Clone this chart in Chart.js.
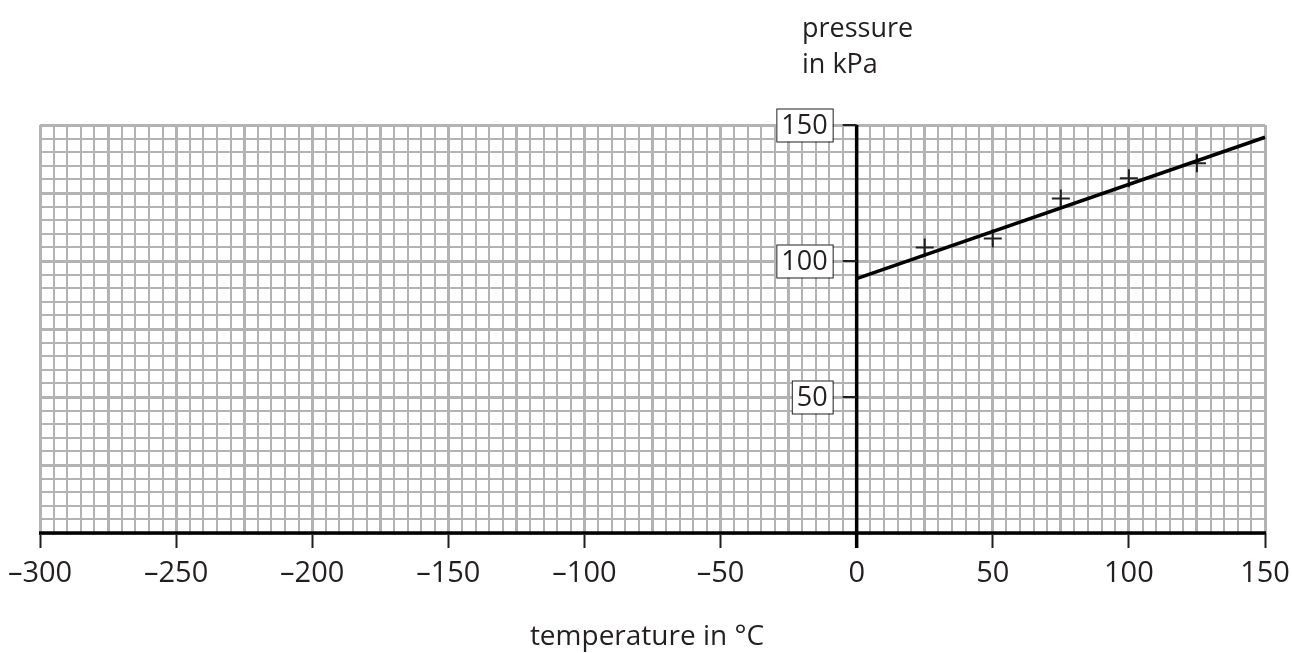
<!DOCTYPE html>
<html>
<head>
<meta charset="utf-8">
<script src="https://cdn.jsdelivr.net/npm/chart.js@4.4.0/dist/chart.umd.min.js"></script>
<style>
  body { margin: 0; background: #fff; }
  #wrap { width: 1292px; height: 653px; }
</style>
</head>
<body>
<div id="wrap"><canvas id="pressureChart"></canvas></div>
<script>
// measured points (crosses)
const tempValues = [25, 50, 75, 100, 125];
const pressureValues = [105, 108.3, 123, 130.4, 135.9];
// best-fit line drawn on the graph
const fitTemps = [0, 150];
const fitPressures = [93.5, 145.5];
// labelled ticks
const xLabelValues = [-300, -250, -200, -150, -100, -50, 0, 50, 100, 150];
const yLabelValues = [50, 100, 150];

const TEXT = '#231f20';
const GRID = '#b3b3b3';
const FONT = '"Open Sans", "DejaVu Sans", sans-serif';

function fmt(v) {
  return v < 0 ? '\u2013' + Math.abs(v) : String(v);
}

// 畫 y 軸、方框標籤和軸標題
const axesPlugin = {
  id: 'axesPlugin',
  beforeDatasetsDraw(chart) {
    const { ctx, chartArea, scales } = chart;
    const x0 = scales.x.getPixelForValue(0);
    const yBottom = scales.y.getPixelForValue(0);
    ctx.save();
    ctx.strokeStyle = '#000';
    ctx.lineWidth = 3.5;
    // x axis
    ctx.beginPath();
    ctx.moveTo(chartArea.left - 1, yBottom);
    ctx.lineTo(chartArea.right + 1, yBottom);
    ctx.stroke();
    // y axis
    ctx.beginPath();
    ctx.moveTo(x0, scales.y.getPixelForValue(150));
    ctx.lineTo(x0, yBottom + 15);
    ctx.stroke();

    // y ticks + boxed labels
    ctx.font = '27px ' + FONT;
    ctx.textAlign = 'center';
    ctx.textBaseline = 'middle';
    yLabelValues.forEach(v => {
      const py = scales.y.getPixelForValue(v);
      ctx.strokeStyle = TEXT;
      ctx.lineWidth = 2;
      ctx.beginPath();
      ctx.moveTo(x0 - 14, py);
      ctx.lineTo(x0, py);
      ctx.stroke();
      const label = fmt(v);
      const bw = ctx.measureText(label).width + 10;
      const bh = 33;
      const right = x0 - 24;
      ctx.fillStyle = '#fff';
      ctx.fillRect(right - bw, py - bh / 2, bw, bh);
      ctx.lineWidth = 1;
      ctx.strokeRect(right - bw + 0.5, py - bh / 2 + 0.5, bw, bh);
      ctx.fillStyle = TEXT;
      ctx.fillText(label, right - bw / 2, py + 1);
    });
    ctx.restore();
  },
  afterDraw(chart) {
    const { ctx } = chart;
    ctx.save();
    ctx.fillStyle = TEXT;
    ctx.textBaseline = 'alphabetic';
    ctx.font = '27px ' + FONT;
    ctx.textAlign = 'left';
    ctx.fillText('pressure', 802, 37);
    ctx.fillText('in kPa', 802, 73);
    ctx.font = '28px ' + FONT;
    ctx.textAlign = 'center';
    ctx.fillText('temperature in \u00B0C', 647, 645);
    ctx.restore();
  }
};

new Chart(document.getElementById('pressureChart'), {
  type: 'scatter',
  data: {
    datasets: [
      {
        label: 'best fit',
        data: fitTemps.map((t, i) => ({ x: t, y: fitPressures[i] })),
        showLine: true,
        borderColor: '#000',
        borderWidth: 3.5,
        pointRadius: 0,
        clip: false
      },
      {
        label: 'readings',
        data: tempValues.map((t, i) => ({ x: t, y: pressureValues[i] })),
        pointStyle: 'cross',
        pointRadius: 9,
        borderColor: TEXT,
        borderWidth: 2,
        backgroundColor: TEXT
      }
    ]
  },
  options: {
    responsive: true,
    maintainAspectRatio: false,
    animation: false,
    layout: { padding: { left: 40, right: 27, top: 125, bottom: 0 } },
    plugins: {
      legend: { display: false },
      tooltip: { enabled: false }
    },
    scales: {
      x: {
        type: 'linear',
        min: -300,
        max: 150,
        afterFit: (scale) => {
          scale.height = 120;
          scale.paddingLeft = 0;
          scale.paddingRight = 0;
        },
        border: { display: false },
        grid: {
          color: GRID,
          lineWidth: (c) => (c.tick && c.tick.value % 25 === 0 ? 3 : 2),
          tickColor: (c) => (c.tick && xLabelValues.includes(c.tick.value) ? TEXT : 'rgba(0,0,0,0)'),
          tickWidth: 2,
          tickLength: 15
        },
        ticks: {
          stepSize: 5,
          maxTicksLimit: 200,
          autoSkip: false,
          maxRotation: 0,
          padding: 8,
          color: TEXT,
          font: { family: FONT, size: 29 },
          callback: (v) => (xLabelValues.includes(v) ? fmt(v) : '')
        }
      },
      y: {
        type: 'linear',
        min: 0,
        max: 150,
        afterFit: (scale) => {
          scale.width = 0;
          scale.paddingTop = 0;
          scale.paddingBottom = 0;
        },
        border: { display: false },
        grid: {
          color: GRID,
          lineWidth: (c) => (c.tick && c.tick.value % 25 === 0 ? 3 : 2),
          drawTicks: false
        },
        ticks: {
          display: false,
          stepSize: 5,
          maxTicksLimit: 200
        }
      }
    }
  },
  plugins: [axesPlugin]
});
</script>
</body>
</html>
